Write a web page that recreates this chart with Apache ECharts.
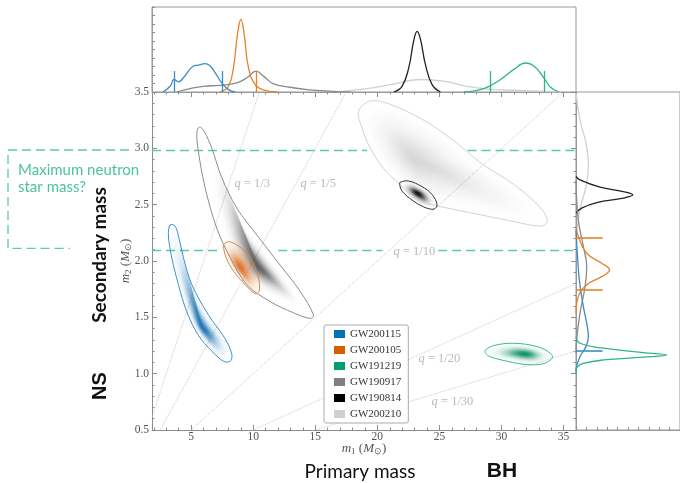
<!DOCTYPE html>
<html>
<head>
<meta charset="utf-8">
<script src="https://cdn.jsdelivr.net/npm/echarts@6/dist/echarts.min.js"></script>
<style>
html, body { margin: 0; padding: 0; background: #fff; }
#chart { width: 680px; height: 483px; }
</style>
</head>
<body>
<div id="chart"></div>
<script>
// events, in legend order
var events = ['GW200115', 'GW200105', 'GW191219', 'GW190917', 'GW190814', 'GW200210'];
var legendColors = ['#0072b2', '#d55e00', '#009e73', '#808080', '#000000', '#d0d0d0'];
var contourColors = ['#3b8fcb', '#e0873a', '#3cb68e', '#8e8e8e', '#333333', '#d2d2d2'];
var margColors = ['#3a8cc6', '#e8822a', '#2fb58a', '#8a8a8a', '#222222', '#d0d0d0'];
var densRgb = [[10,108,176], [224,101,15], [3,144,94], [38,38,38], [0,0,0], [96,96,96]];

// 90% contours [m1, m2]
var contour200115 = [[3.31,2.32],[3.71,2.31],[4.03,2.20],[4.38,2.03],[5.06,1.79],[6.40,1.52],[7.74,1.31],[8.28,1.17],[8.15,1.11],[7.61,1.11],[6.67,1.20],[5.59,1.34],[4.65,1.55],[3.98,1.79],[3.44,2.03],[3.17,2.23]];
var contour200105 = [[7.74,2.16],[8.15,2.17],[9.09,2.11],[9.90,2.00],[10.43,1.85],[10.48,1.73],[10.16,1.71],[9.35,1.79],[8.41,1.91],[7.82,2.03],[7.61,2.13]];
var contour191219 = [[28.71,1.21],[29.38,1.25],[30.99,1.27],[32.88,1.24],[33.95,1.18],[34.09,1.14],[33.41,1.09],[32.07,1.08],[30.46,1.11],[29.11,1.15],[28.71,1.18]];
var contour190917 = [[5.67,3.19],[6.05,3.15],[6.67,3.00],[7.47,2.74],[8.68,2.47],[10.30,2.23],[11.91,2.00],[13.79,1.73],[14.86,1.52],[14.60,1.49],[13.25,1.54],[11.37,1.64],[9.49,1.79],[8.15,2.03],[7.07,2.29],[6.13,2.65],[5.59,2.97],[5.46,3.14]];
var contour190814 = [[21.85,2.70],[22.53,2.71],[23.60,2.66],[24.41,2.59],[24.81,2.50],[24.54,2.46],[23.73,2.48],[22.80,2.54],[21.99,2.62],[21.80,2.68]];
var contour200210 = [[18.49,3.33],[19.44,3.42],[21.05,3.39],[23.73,3.25],[25.89,3.09],[27.23,2.97],[28.57,2.85],[30.99,2.68],[33.15,2.47],[33.69,2.35],[33.15,2.31],[30.99,2.35],[28.31,2.41],[24.81,2.49],[23.20,2.54],[21.72,2.69],[20.51,2.82],[19.44,3.00],[18.77,3.18]];
var contours = [contour200115, contour200105, contour191219, contour190917, contour190814, contour200210];

// density peaks [m1, m2]
var peaks = [[5.9,1.41],[8.95,1.94],[31.9,1.175],[10.4,1.95],[23.25,2.60],[23.0,2.90]];
var densMax = [0.92, 0.88, 0.95, 0.72, 0.95, 0.22];
var densFall = [4.5, 3.2, 4.5, 7, 5, 4];

// marginal m1 densities [m1, fraction of panel height]
var m1_200115 = [[2.72,0],[3.31,0.067],[3.63,0.147],[3.98,0.119],[4.38,0.167],[5.19,0.306],[5.59,0.317],[6.13,0.333],[6.53,0.306],[6.94,0.226],[7.47,0.107],[8.01,0.028],[8.55,0]];
var m1_200105 = [[7.34,0],[8.01,0.067],[8.41,0.286],[8.74,0.683],[9.01,0.853],[9.27,0.683],[9.62,0.286],[10.16,0.087],[10.83,0.024],[11.91,0]];
var m1_191219 = [[26.96,0],[28.57,0.04],[29.92,0.147],[31.0,0.266],[31.94,0.341],[32.61,0.306],[33.41,0.167],[33.95,0.056],[34.62,0]];
var m1_190917 = [[3.84,0],[4.92,0.04],[5.99,0.067],[7.34,0.079],[8.68,0.107],[9.49,0.167],[10.24,0.246],[10.83,0.187],[11.64,0.095],[12.98,0.056],[14.33,0.028],[16.48,0.008],[17.82,0]];
var m1_190814 = [[21.32,0],[21.99,0.067],[22.53,0.286],[22.93,0.603],[23.2,0.714],[23.47,0.623],[23.87,0.325],[24.41,0.087],[25.08,0]];
var m1_200210 = [[16.75,0],[19.17,0.04],[21.05,0.087],[23.47,0.147],[25.35,0.127],[27.23,0.067],[29.11,0.032],[31.8,0.016],[34.76,0]];
var m1Marg = [m1_200115, m1_200105, m1_191219, m1_190917, m1_190814, m1_200210];

// marginal m2 densities [m2, fraction of panel width]
var m2_200115 = [[2.276,0],[2.069,0.013],[1.832,0.032],[1.595,0.071],[1.417,0.109],[1.329,0.119],[1.24,0.096],[1.151,0.038],[1.062,0.006],[1.004,0]];
var m2_200105 = [[2.306,0],[2.217,0.022],[2.069,0.103],[1.98,0.247],[1.921,0.321],[1.861,0.247],[1.788,0.103],[1.684,0.022],[1.536,0]];
var m2_191219 = [[1.329,0],[1.270,0.038],[1.226,0.263],[1.187,0.647],[1.166,0.872],[1.146,0.647],[1.122,0.263],[1.092,0.071],[1.062,0.013],[1.033,0]];
var m2_190917 = [[2.72,0],[2.365,0.022],[2.128,0.071],[1.95,0.103],[1.773,0.087],[1.536,0.038],[1.299,0.006],[1.181,0]];
var m2_190814 = [[2.75,0],[2.72,0.038],[2.655,0.231],[2.616,0.455],[2.587,0.545],[2.558,0.455],[2.519,0.199],[2.469,0.054],[2.425,0]];
var m2_200210 = [[3.49,0],[3.253,0.038],[3.016,0.103],[2.838,0.119],[2.661,0.096],[2.483,0.045],[2.306,0.013],[2.128,0]];
var m2Marg = [m2_200115, m2_200105, m2_191219, m2_190917, m2_190814, m2_200210];

// credible bounds shown in marginals
var boundsM1 = [[3.63, 7.47], [10.24], [29.11, 33.41], [], [], []];
var boundsM2 = [[1.204], [2.202, 1.743], [], [], [], []];

// mass-ratio lines and labels
var qValues = [1/3, 1/5, 1/10, 1/20, 1/30];
var qLabels = ['1/3', '1/5', '1/10', '1/20', '1/30'];
var qLabelPos = [[9.92,2.685],[15.24,2.685],[22.98,2.085],[25.0,1.13],[26.05,0.749]];

// maximum neutron star mass levels and dashed segments [m1 from, m1 to]
var nsUpper = 2.985, nsLower = 2.094;
var upperSegs = [[1.85,19.19],[27.26,36]];
var lowerSegs = [[1.85,7.10],[12.02,20.4],[24.9,36]];

var xMin = 1.85, xMax = 36, yMin = 0.5, yMax = 3.5;
var xMajor = [5, 10, 15, 20, 25, 30, 35];
var xMinor = [];
for (var v = 2; v <= 36; v++) xMinor.push(v);

var mainGrid = { left: 152, top: 92, width: 424, height: 338 };
var axisGray = '#8c8c8c';
var serif = 'Liberation Serif';

function yPix(m2) {
  return mainGrid.top + (yMax - m2) / (yMax - yMin) * mainGrid.height;
}

function densitySeries(i) {
  var contour = contours[i], peak = peaks[i], rgb = densRgb[i];
  return {
    type: 'custom', name: events[i], xAxisIndex: 0, yAxisIndex: 0,
    silent: true, z: 3,
    itemStyle: { color: legendColors[i] },
    data: [peak],
    renderItem: function (params, api) {
      var c = api.coord(peak);
      var pts = contour.map(function (p) { return api.coord(p); });
      var children = [];
      var N = 30, prev = 0;
      for (var k = 0; k < N; k++) {
        var s = 1 - k / N;
        var P = densMax[i] * Math.exp(-densFall[i] * s * s);
        var a = 1 - (1 - P) / (1 - prev);
        prev = P;
        children.push({
          type: 'polygon',
          shape: { points: pts.map(function (q) { return [c[0] + s * (q[0] - c[0]), c[1] + s * (q[1] - c[1])]; }), smooth: 0.35 },
          style: { fill: 'rgba(' + rgb[0] + ',' + rgb[1] + ',' + rgb[2] + ',' + a.toFixed(4) + ')' }
        });
      }
      return { type: 'group', children: children };
    }
  };
}

var series = [];

// q lines
qValues.forEach(function (q) {
  series.push({
    type: 'line', xAxisIndex: 0, yAxisIndex: 0, silent: true, symbol: 'none', z: 1,
    data: [[xMin, q * xMin], [xMax, q * xMax]],
    lineStyle: { color: '#c4c4c4', width: 0.9, type: 'dotted' }
  });
});

// NS mass dashed lines
var dashData = upperSegs.map(function (s) { return { coords: [[s[0], nsUpper], [s[1], nsUpper]] }; })
  .concat(lowerSegs.map(function (s) { return { coords: [[s[0], nsLower], [s[1], nsLower]] }; }));
series.push({
  type: 'lines', coordinateSystem: 'cartesian2d', xAxisIndex: 0, yAxisIndex: 0, silent: true, z: 2,
  data: dashData,
  lineStyle: { color: '#5ccaa9', width: 1.3, type: [9, 5], opacity: 1 }
});

// densities (drawing order)
[5, 4, 3, 1, 0, 2].forEach(function (i) { series.push(densitySeries(i)); });

// contours
series.push({
  type: 'custom', xAxisIndex: 0, yAxisIndex: 0, silent: true, z: 5,
  data: [[xMin, 0.5]],
  renderItem: function (params, api) {
    var children = [5, 4, 3, 1, 0, 2].map(function (i) {
      return {
        type: 'polygon',
        shape: { points: contours[i].map(function (p) { return api.coord(p); }), smooth: 0.35 },
        style: { fill: 'none', stroke: contourColors[i], lineWidth: 1 }
      };
    });
    return { type: 'group', children: children };
  }
});

// q labels
series.push({
  type: 'scatter', xAxisIndex: 0, yAxisIndex: 0, silent: true, symbolSize: 0, z: 6,
  data: qLabelPos.map(function (p, i) { return [p[0], p[1], qLabels[i]]; }),
  label: {
    show: true, position: 'inside',
    formatter: function (p) { return '{i|q} = ' + p.data[2]; },
    color: '#a8a8a8', fontFamily: serif, fontSize: 12.5,
    rich: { i: { fontStyle: 'italic', fontFamily: serif, fontSize: 12.5, color: '#a8a8a8' } }
  }
});

// marginals
[5, 4, 3, 1, 0, 2].forEach(function (i) {
  var top = {
    type: 'line', xAxisIndex: 4, yAxisIndex: 2, silent: true, symbol: 'none', smooth: 0.45,
    data: m1Marg[i], lineStyle: { color: margColors[i], width: 1.3 }
  };
  if (boundsM1[i].length) {
    top.markLine = {
      silent: true, symbol: 'none', label: { show: false },
      lineStyle: { color: margColors[i], width: 1.3, type: 'solid' },
      data: boundsM1[i].map(function (b) { return [{ coord: [b, 0] }, { coord: [b, 0.246] }]; })
    };
  }
  series.push(top);
  var right = {
    type: 'line', xAxisIndex: 5, yAxisIndex: 3, silent: true, symbol: 'none', smooth: 0.45,
    data: m2Marg[i].map(function (d) { return [d[1], d[0]]; }), lineStyle: { color: margColors[i], width: 1.3 }
  };
  if (boundsM2[i].length) {
    right.markLine = {
      silent: true, symbol: 'none', label: { show: false },
      lineStyle: { color: margColors[i], width: 1.6, type: 'solid' },
      data: boundsM2[i].map(function (b) { return [{ coord: [0, b] }, { coord: [0.256, b] }]; })
    };
  }
  series.push(right);
});

var nameRich = {
  i: { fontStyle: 'italic', fontFamily: serif, fontSize: 13, color: '#555', lineHeight: 15 },
  s: { fontFamily: serif, fontSize: 9, color: '#555', lineHeight: 15, verticalAlign: 'bottom' },
  n: { fontFamily: serif, fontSize: 13, color: '#555', lineHeight: 15 }
};

function tickAxis(extra) {
  var base = {
    min: xMin, max: xMax, type: 'value', gridIndex: 0,
    axisLine: { show: false }, splitLine: { show: false }, axisLabel: { show: false },
    axisTick: { show: true, inside: true, length: 5, lineStyle: { color: axisGray } }
  };
  return Object.assign(base, extra);
}

// annotation outside the plot, anchored to the NS-mass levels
var yTopPix = yPix(nsUpper), yLowPix = yPix(nsLower) - 2;
var dash = { stroke: '#5ccaa9', lineWidth: 1.3, lineDash: [9, 5], fill: 'none' };

var option = {
  backgroundColor: '#fff',
  animation: false,
  grid: [
    mainGrid,
    { left: 152, top: 7, width: 424, height: 85, show: true, borderColor: '#999', borderWidth: 1 },
    { left: 576, top: 92, width: 106, height: 338, show: true, borderColor: '#999', borderWidth: 1 }
  ],
  xAxis: [
    tickAxis({
      position: 'bottom',
      axisLine: { show: true, lineStyle: { color: axisGray } },
      axisTick: { show: true, inside: true, length: 5, customValues: xMajor, lineStyle: { color: axisGray } },
      axisLabel: { show: true, customValues: xMajor, margin: 1, color: '#555', fontFamily: serif, fontSize: 11.5 },
      name: '{i|m}{s|1}{n| (}{i|M}{s|⊙}{n|)}', nameLocation: 'middle', nameGap: 11, nameMoveOverlap: false,
      nameTextStyle: { rich: nameRich }
    }),
    tickAxis({ position: 'bottom', axisTick: { show: true, inside: true, length: 2.5, customValues: xMinor, lineStyle: { color: axisGray } } }),
    tickAxis({ position: 'top', axisTick: { show: true, inside: true, length: 5, customValues: xMajor, lineStyle: { color: axisGray } } }),
    tickAxis({ position: 'top', axisTick: { show: true, inside: true, length: 2.5, customValues: xMinor, lineStyle: { color: axisGray } } }),
    { type: 'value', gridIndex: 1, min: xMin, max: xMax, position: 'bottom',
      axisLine: { show: true, lineStyle: { color: '#999' } }, axisTick: { show: false }, axisLabel: { show: false }, splitLine: { show: false } },
    { type: 'value', gridIndex: 2, min: 0, max: 1, interval: 0.1, position: 'bottom',
      axisLine: { show: true, lineStyle: { color: '#999' } },
      axisTick: { show: true, inside: true, length: 3, lineStyle: { color: axisGray } },
      axisLabel: { show: false }, splitLine: { show: false } }
  ],
  yAxis: [
    { type: 'value', gridIndex: 0, min: yMin, max: yMax, interval: 0.5, position: 'left',
      axisLine: { show: true, lineStyle: { color: axisGray } },
      axisTick: { show: true, inside: true, length: 5, lineStyle: { color: axisGray } },
      minorTick: { show: true, splitNumber: 5, length: 2.5, lineStyle: { color: axisGray } },
      axisLabel: { color: '#555', fontFamily: serif, fontSize: 11.5, margin: 3, formatter: function (v) { return v.toFixed(1); } },
      splitLine: { show: false }, minorSplitLine: { show: false },
      name: '{i|m}{s|2}{n| (}{i|M}{s|⊙}{n|)}', nameLocation: 'middle', nameGap: 19, nameRotate: 90, nameMoveOverlap: false,
      nameTextStyle: { rich: nameRich } },
    { type: 'value', gridIndex: 0, min: yMin, max: yMax, interval: 0.5, position: 'right',
      axisLine: { show: false },
      axisTick: { show: true, inside: true, length: 5, lineStyle: { color: axisGray } },
      minorTick: { show: true, splitNumber: 5, length: 2.5, lineStyle: { color: axisGray } },
      axisLabel: { show: false }, splitLine: { show: false }, minorSplitLine: { show: false } },
    { type: 'value', gridIndex: 1, min: 0, max: 1, interval: 0.1, position: 'left',
      axisLine: { show: true, lineStyle: { color: '#999' } },
      axisTick: { show: true, inside: true, length: 3, lineStyle: { color: axisGray } },
      axisLabel: { show: false }, splitLine: { show: false } },
    { type: 'value', gridIndex: 2, min: yMin, max: yMax, position: 'left',
      axisLine: { show: true, lineStyle: { color: '#999' } },
      axisTick: { show: false }, axisLabel: { show: false }, splitLine: { show: false } }
  ],
  legend: {
    data: events, orient: 'vertical', left: 324, top: 325,
    icon: 'rect', itemWidth: 11, itemHeight: 8, itemGap: 4,
    padding: [3, 7, 3, 10], borderColor: '#aaa', borderWidth: 1, borderRadius: 2,
    backgroundColor: '#fff', selectedMode: false, z: 10,
    textStyle: { fontFamily: serif, fontSize: 11, color: '#333', lineHeight: 12 }
  },
  graphic: [
    { type: 'polyline', silent: true, shape: { points: [[129, yTopPix], [8, yTopPix], [8, yLowPix], [70, yLowPix]] }, style: dash },
    { type: 'text', left: 18, top: 162, silent: true,
      style: { text: 'Maximum neutron\nstar mass?', font: '15px Lato', fill: '#4cc3a1', lineHeight: 17 } },
    { type: 'text', x: 100, y: 255, rotation: Math.PI / 2, silent: true,
      style: { text: 'Secondary mass', font: 'bold 19px Lato', fill: '#111', align: 'center', verticalAlign: 'middle' } },
    { type: 'text', x: 100, y: 386, rotation: Math.PI / 2, silent: true,
      style: { text: 'NS', font: 'bold 20px "Liberation Sans"', fill: '#111', align: 'center', verticalAlign: 'middle' } },
    { type: 'text', x: 360, y: 472, silent: true,
      style: { text: 'Primary mass', font: '19px Lato', fill: '#111', align: 'center', verticalAlign: 'middle' } },
    { type: 'text', x: 502, y: 471, silent: true,
      style: { text: 'BH', font: 'bold 21px "Liberation Sans"', fill: '#111', align: 'center', verticalAlign: 'middle' } }
  ],
  series: series
};

var chart = echarts.init(document.getElementById('chart'));
chart.setOption(option);
</script>
</body>
</html>
